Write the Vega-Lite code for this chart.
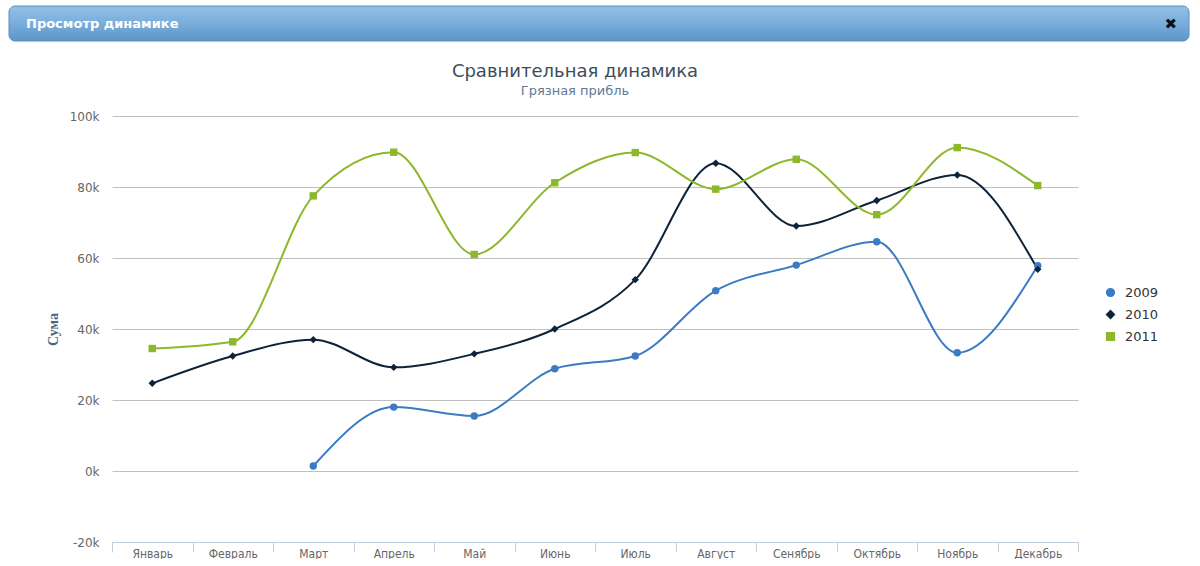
{
  "$schema": "https://vega.github.io/schema/vega-lite/v6.json",
  "background": "white",
  "padding": {"left": 8, "top": 5, "right": 0, "bottom": 0},
  "spacing": 21,
  "config": {"view": {"stroke": null}, "font": "DejaVu Sans"},
  "vconcat": [
    {
      "width": 1180,
      "height": 35,
      "data": {"values": [{"text": "Просмотр динамике", "pos": "left"}, {"text": "✖", "pos": "right"}]},
      "layer": [
        {
          "data": {"values": [{"k": 1}]},
          "mark": {
            "type": "rect",
            "cornerRadius": 6,
            "stroke": "#5b8fc0",
            "strokeWidth": 1,
            "fill": {"x1": 0, "y1": 0, "x2": 0, "y2": 1, "gradient": "linear", "stops": [{"offset": 0, "color": "#93c0e7"}, {"offset": 0.5, "color": "#79addb"}, {"offset": 1, "color": "#5c95c9"}]}
          },
          "encoding": {}
        },
        {
          "transform": [{"filter": "datum.pos == 'left'"}],
          "mark": {"type": "text", "align": "left", "dx": 17, "fontWeight": "bold", "fontSize": 13, "color": "#ffffff", "font": "DejaVu Sans"},
          "encoding": {
            "x": {"field": "pos", "type": "nominal", "scale": {"type": "point", "padding": 0, "domain": ["left", "right"]}, "axis": null},
            "text": {"field": "text"}
          }
        },
        {
          "transform": [{"filter": "datum.pos == 'right'"}],
          "mark": {"type": "text", "align": "right", "dx": -12, "fontWeight": "bold", "fontSize": 15, "color": "#111111", "font": "DejaVu Sans"},
          "encoding": {
            "x": {"field": "pos", "type": "nominal", "scale": {"type": "point", "padding": 0, "domain": ["left", "right"]}, "axis": null},
            "text": {"field": "text"}
          }
        }
      ]
    },
    {
      "spacing": 36,
      "hconcat": [
        {
          "width": 1,
          "height": 1,
          "data": {"values": [{"k": 1}]},
          "mark": {"type": "rect", "opacity": 0},
          "encoding": {}
        },
        {
          "width": 966,
          "height": 426,
          "title": {
            "text": "Сравнительная динамика",
            "subtitle": "Грязная прибль",
            "anchor": "middle",
            "frame": "group",
            "dx": -20,
            "font": "DejaVu Sans",
            "fontSize": 18,
            "fontWeight": "normal",
            "color": "#3e4d5c",
            "subtitleFont": "DejaVu Sans",
            "subtitleFontSize": 13,
            "subtitleColor": "#5f7a93",
            "subtitlePadding": 4,
            "offset": 12
          },
          "data": {
            "values": [
              {"month": "Март", "year": "2009", "value": 1400},
              {"month": "Апрель", "year": "2009", "value": 18000},
              {"month": "Май", "year": "2009", "value": 15500},
              {"month": "Июнь", "year": "2009", "value": 28800},
              {"month": "Июль", "year": "2009", "value": 32400},
              {"month": "Август", "year": "2009", "value": 50800},
              {"month": "Сенябрь", "year": "2009", "value": 58000},
              {"month": "Октябрь", "year": "2009", "value": 64600},
              {"month": "Ноябрь", "year": "2009", "value": 33300},
              {"month": "Декабрь", "year": "2009", "value": 57800},
              {"month": "Январь", "year": "2010", "value": 24700},
              {"month": "Февраль", "year": "2010", "value": 32400},
              {"month": "Март", "year": "2010", "value": 37000},
              {"month": "Апрель", "year": "2010", "value": 29200},
              {"month": "Май", "year": "2010", "value": 33000},
              {"month": "Июнь", "year": "2010", "value": 40000},
              {"month": "Июль", "year": "2010", "value": 53900},
              {"month": "Август", "year": "2010", "value": 86700},
              {"month": "Сенябрь", "year": "2010", "value": 69000},
              {"month": "Октябрь", "year": "2010", "value": 76200},
              {"month": "Ноябрь", "year": "2010", "value": 83400},
              {"month": "Декабрь", "year": "2010", "value": 56800},
              {"month": "Январь", "year": "2011", "value": 34500},
              {"month": "Февраль", "year": "2011", "value": 36400},
              {"month": "Март", "year": "2011", "value": 77500},
              {"month": "Апрель", "year": "2011", "value": 89800},
              {"month": "Май", "year": "2011", "value": 61000},
              {"month": "Июнь", "year": "2011", "value": 81200},
              {"month": "Июль", "year": "2011", "value": 89700},
              {"month": "Август", "year": "2011", "value": 79400},
              {"month": "Сенябрь", "year": "2011", "value": 87800},
              {"month": "Октябрь", "year": "2011", "value": 72200},
              {"month": "Ноябрь", "year": "2011", "value": 91100},
              {"month": "Декабрь", "year": "2011", "value": 80400}
            ]
          },
          "encoding": {
            "x": {
              "field": "month",
              "type": "ordinal",
              "sort": ["Январь", "Февраль", "Март", "Апрель", "Май", "Июнь", "Июль", "Август", "Сенябрь", "Октябрь", "Ноябрь", "Декабрь"],
              "scale": {"type": "band", "paddingInner": 0, "paddingOuter": 0},
              "axis": {
                "title": null,
                "labelAngle": 0,
                "tickBand": "extent",
                "tickSize": 10,
                "tickColor": "#c0d0e0",
                "domainColor": "#c0d0e0",
                "labelColor": "#666666",
                "labelFont": "DejaVu Sans Condensed, Liberation Sans, sans-serif",
                "labelFontSize": 12,
                "labelPadding": -4,
                "grid": false
              }
            },
            "y": {
              "field": "value",
              "type": "quantitative",
              "scale": {"domain": [-20000, 100000], "nice": false},
              "axis": {
                "title": "Сума",
                "values": [-20000, 0, 20000, 40000, 60000, 80000, 100000],
                "labelExpr": "datum.value / 1000 + 'k'",
                "grid": true,
                "gridColor": "#c0c0c0",
                "domain": false,
                "ticks": false,
                "tickSize": 0,
                "labelPadding": 13,
                "labelFont": "DejaVu Sans",
                "labelFontSize": 12,
                "labelColor": "#666666",
                "titleFont": "Liberation Serif",
                "titleFontSize": 14,
                "titleFontWeight": "bold",
                "titleColor": "#4d6780",
                "titlePadding": 9
              }
            },
            "color": {
              "field": "year",
              "type": "nominal",
              "scale": {"domain": ["2009", "2010", "2011"], "range": ["#3b7bc4", "#0d233a", "#8db82c"]},
              "legend": {
                "title": null,
                "orient": "none",
                "legendX": 1095,
                "legendY": 280,
                "labelFont": "DejaVu Sans",
                "labelFontSize": 13,
                "labelColor": "#333333",
                "labelOffset": 8,
                "rowPadding": 7,
                "symbolSize": 60
              }
            }
          },
          "layer": [
            {"mark": {"type": "line", "interpolate": "monotone", "strokeWidth": 2}},
            {
              "mark": {"type": "point", "filled": true, "opacity": 1, "size": 55},
              "encoding": {
                "shape": {"field": "year", "type": "nominal", "scale": {"domain": ["2009", "2010", "2011"], "range": ["circle", "diamond", "square"]}}
              }
            }
          ]
        }
      ]
    }
  ]
}
